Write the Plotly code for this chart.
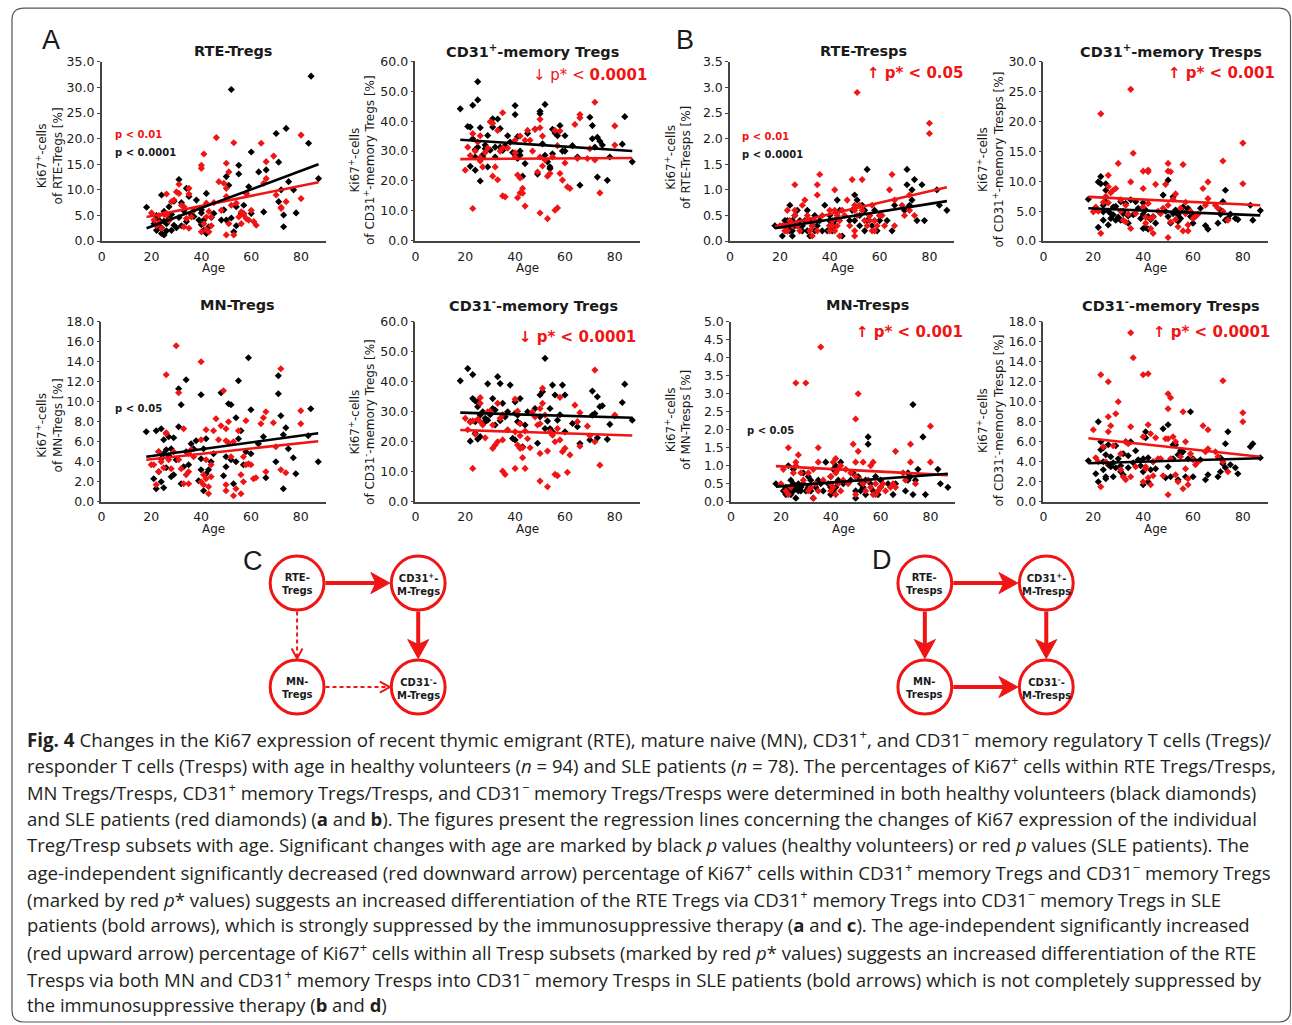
import plotly.graph_objects as go

W, H = 1292, 1032
# the page is photographed from a slightly taller view: figure starts 8 px down and is
# scaled by about 0.9856 vertically, so page pixels are mapped back through these two
TOP = 8
VIEW = 0.9856
RED = "#f01414"
INK = "#1a1a1a"

# ages of the two cohorts (same subjects in every panel)
healthy_age = [18, 21, 22, 22, 23, 23, 24, 24, 24, 25,
               25, 25, 26, 26, 27, 27, 28, 28, 29, 29,
               30, 31, 31, 32, 32, 33, 34, 34, 35, 36,
               37, 38, 39, 40, 40, 40, 41, 41, 42, 42,
               43, 44, 45, 48, 49, 50, 50, 51, 52, 52,
               53, 54, 54, 55, 55, 56, 57, 58, 59, 60,
               60, 63, 65, 66, 70, 71, 71, 72, 73, 73,
               74, 75, 77, 78, 83, 84, 87]
sle_age = [20, 21, 22, 23, 23, 24, 25, 26, 26, 26,
           27, 28, 29, 30, 31, 31, 32, 33, 33, 34,
           35, 35, 35, 36, 37, 40, 40, 40, 41, 41,
           42, 42, 42, 43, 43, 44, 44, 45, 46, 47,
           48, 49, 50, 50, 50, 50, 51, 51, 52, 53,
           53, 54, 55, 56, 56, 57, 57, 58, 58, 59,
           60, 61, 62, 64, 65, 66, 66, 69, 70, 72,
           72, 74, 80, 80]

# Ki67+ cells [%] per subset
rte_tregs_healthy = [6.6, 3.4, 2.1, 5.0, 4.1, 3.0, 1.5, 9.0, 2.6, 1.2,
                     5.8, 3.9, 3.4, 2.0, 6.7, 4.4, 2.1, 5.2, 3.1, 7.8,
                     2.6, 12.0, 4.6, 7.5, 3.0, 5.9, 10.3, 3.8, 8.7, 5.1,
                     4.8, 8.0, 4.1, 6.1, 3.2, 5.5, 2.1, 4.1, 1.5, 9.3,
                     2.8, 4.6, 5.4, 4.1, 6.1, 12.6, 4.1, 10.9, 29.6, 4.5,
                     1.8, 6.7, 3.0, 14.8, 13.1, 5.4, 7.0, 9.3, 10.6, 17.4,
                     5.4, 13.5, 5.7, 13.9, 21.0, 15.4, 7.7, 10.0, 5.1, 2.8,
                     22.0, 11.6, 10.0, 5.5, 19.1, 32.2, 12.2]
rte_tregs_sle = [5.5, 4.1, 3.0, 3.6, 5.0, 2.5, 5.2, 9.2, 5.4, 5.1,
                 4.0, 7.7, 8.0, 9.6, 11.1, 9.3, 7.0, 2.8, 6.7, 4.4,
                 10.3, 9.2, 2.5, 4.7, 6.0, 14.8, 1.8, 14.2, 3.4, 17.0,
                 7.4, 4.7, 2.2, 1.8, 5.8, 4.7, 3.0, 7.5, 20.2, 11.6,
                 6.0, 11.3, 10.3, 15.2, 8.7, 1.2, 3.4, 13.5, 7.0, 19.2,
                 1.2, 7.4, 4.7, 3.4, 5.7, 5.4, 5.1, 9.3, 4.4, 4.1,
                 6.0, 3.8, 3.1, 19.1, 11.3, 15.5, 12.2, 16.6, 9.0, 6.4,
                 6.6, 7.7, 20.7, 8.3]

cd31p_tregs_healthy = [44.1, 38.2, 24.9, 38.0, 45.3, 34.1, 23.6, 28.0, 30.5, 53.2,
                       47.1, 31.3, 37.8, 20.0, 28.0, 28.7, 30.8, 32.0, 24.7, 35.2,
                       30.3, 38.0, 40.8, 31.3, 28.0, 40.7, 31.3, 37.5, 30.2, 31.8,
                       35.1, 33.0, 29.5, 45.2, 42.2, 29.1, 27.5, 34.8, 28.6, 30.0,
                       21.6, 25.8, 35.9, 37.3, 22.3, 43.3, 42.5, 32.4, 45.6, 28.6,
                       26.4, 24.7, 24.1, 29.1, 37.3, 36.0, 35.1, 38.5, 30.0, 35.1,
                       30.0, 31.8, 28.0, 18.6, 41.3, 34.1, 38.5, 31.3, 34.6, 21.3,
                       33.3, 32.0, 20.2, 28.0, 32.3, 41.5, 26.4]
cd31p_tregs_sle = [23.6, 31.3, 28.5, 10.8, 35.8, 30.0, 33.0, 35.1, 26.7, 27.8,
                   24.7, 29.5, 31.0, 39.8, 39.3, 21.6, 24.7, 36.9, 20.4, 30.0,
                   42.8, 31.1, 15.0, 14.7, 31.0, 28.0, 29.4, 33.6, 14.4, 22.0,
                   35.0, 16.0, 21.0, 15.9, 17.5, 11.6, 33.6, 36.9, 33.6, 30.0,
                   37.3, 23.0, 9.3, 40.6, 37.8, 28.0, 35.0, 25.0, 27.0, 7.4,
                   21.6, 22.5, 28.0, 36.9, 10.2, 11.0, 31.8, 36.7, 22.5, 20.3,
                   26.0, 18.0, 17.5, 38.9, 27.5, 42.2, 41.1, 27.5, 30.8, 46.3,
                   27.0, 16.0, 38.4, 32.0]

rte_tresps_healthy = [0.3, 0.1, 0.4, 0.3, 0.4, 0.2, 0.7, 0.2, 0.3, 0.1,
                      0.4, 0.2, 0.3, 0.5, 0.6, 0.3, 0.3, 0.4, 0.2, 0.3,
                      0.4, 0.6, 0.2, 0.4, 0.1, 0.3, 0.2, 0.5, 0.3, 0.4,
                      0.2, 0.7, 0.2, 0.5, 0.3, 0.4, 0.3, 0.2, 0.4, 0.3,
                      0.8, 0.6, 0.1, 0.4, 0.6, 0.9, 0.4, 0.8, 0.3, 0.5,
                      0.7, 0.2, 0.6, 1.4, 0.4, 0.5, 0.3, 0.6, 0.2, 0.5,
                      0.4, 0.4, 0.2, 0.7, 0.6, 1.4, 1.1, 0.7, 1.0, 0.8,
                      1.2, 0.4, 1.1, 0.4, 1.0, 0.7, 0.6]
rte_tresps_sle = [0.3, 0.3, 0.2, 0.6, 0.2, 0.4, 0.3, 1.1, 0.6, 0.5,
                  0.3, 0.2, 0.7, 0.8, 0.5, 0.4, 0.2, 0.1, 0.3, 0.4,
                  1.1, 0.9, 0.2, 1.3, 0.5, 0.6, 0.3, 0.2, 0.4, 0.3,
                  1.0, 0.6, 0.2, 0.5, 0.3, 0.1, 0.4, 0.6, 0.5, 0.8,
                  0.3, 1.2, 0.7, 0.1, 0.2, 0.6, 2.9, 0.5, 0.7, 1.2,
                  0.6, 0.4, 0.3, 0.5, 0.4, 0.2, 0.7, 0.4, 0.2, 0.3,
                  0.5, 0.5, 0.3, 1.0, 1.3, 0.8, 0.3, 0.7, 0.5, 0.9,
                  0.6, 0.5, 2.3, 2.1]

cd31p_tresps_healthy = [7.0, 5.3, 2.3, 9.9, 10.8, 9.6, 6.0, 4.9, 3.5, 8.5,
                        6.6, 9.6, 2.7, 5.0, 4.6, 3.8, 5.7, 4.4, 3.5, 5.8,
                        4.0, 6.6, 3.5, 4.6, 5.0, 6.3, 4.2, 3.0, 6.9, 4.4,
                        6.6, 5.5, 3.8, 2.1, 6.4, 4.5, 5.2, 2.3, 4.1, 2.0,
                        3.6, 4.1, 3.0, 7.7, 5.0, 10.2, 4.1, 3.0, 7.4, 4.6,
                        5.2, 3.3, 4.4, 5.0, 3.8, 5.7, 4.8, 5.5, 4.1, 4.1,
                        3.0, 5.5, 2.6, 2.0, 3.0, 5.2, 4.5, 6.6, 3.5, 8.5,
                        3.8, 4.5, 3.8, 3.6, 6.0, 3.5, 5.1]
cd31p_tresps_sle = [4.9, 5.7, 5.0, 21.3, 1.3, 6.5, 7.5, 11.0, 9.1, 6.4,
                    8.1, 8.5, 8.8, 13.0, 6.9, 5.0, 3.5, 3.2, 6.0, 4.5,
                    25.4, 9.9, 2.1, 14.7, 4.6, 8.8, 11.7, 5.7, 3.0, 4.0,
                    11.9, 11.6, 6.3, 3.8, 2.1, 1.3, 4.0, 9.5, 5.0, 4.6,
                    5.5, 9.5, 13.0, 11.7, 0.6, 6.0, 11.6, 3.2, 7.0, 7.9,
                    3.6, 2.4, 5.5, 12.8, 1.7, 4.6, 6.5, 1.7, 2.7, 5.0,
                    3.8, 4.1, 4.5, 8.8, 6.0, 9.9, 7.1, 6.0, 5.5, 13.4,
                    5.0, 3.5, 16.4, 9.6]

mn_tregs_healthy = [7.0, 2.3, 1.3, 7.1, 5.0, 3.0, 4.3, 2.0, 7.3, 6.2,
                    1.4, 4.8, 3.4, 5.2, 6.5, 4.6, 5.3, 2.5, 6.4, 2.7,
                    4.2, 11.3, 7.5, 9.7, 1.8, 3.5, 12.2, 5.0, 3.7, 5.8,
                    5.3, 6.1, 2.1, 10.7, 3.2, 4.3, 5.3, 1.1, 6.3, 2.8,
                    3.2, 4.0, 4.8, 10.9, 2.6, 3.5, 4.5, 9.8, 9.7, 4.2,
                    1.8, 8.4, 4.0, 12.1, 6.3, 7.1, 3.7, 5.0, 14.4, 9.2,
                    4.8, 5.8, 6.5, 2.4, 4.0, 12.6, 10.8, 8.6, 6.7, 1.3,
                    7.4, 5.3, 4.4, 2.8, 6.6, 9.3, 4.0]
mn_tregs_sle = [3.7, 3.7, 1.7, 3.0, 5.0, 4.0, 3.4, 12.7, 6.9, 6.8,
                4.2, 3.3, 5.0, 15.6, 10.9, 4.2, 3.3, 7.3, 1.8, 2.7,
                3.0, 1.8, 4.8, 5.2, 4.5, 14.0, 6.2, 2.0, 1.7, 2.7,
                7.2, 4.2, 2.3, 1.5, 0.8, 3.7, 2.5, 7.1, 8.3, 6.2,
                7.6, 11.1, 1.7, 1.1, 6.1, 7.3, 8.0, 5.9, 4.5, 0.6,
                6.0, 1.3, 7.1, 2.7, 0.8, 2.0, 4.5, 8.1, 3.7, 3.8,
                3.7, 2.3, 2.4, 7.8, 8.4, 9.0, 3.0, 7.9, 5.5, 13.3,
                3.2, 2.9, 9.1, 7.8]

cd31n_tregs_healthy = [40.3, 44.4, 26.7, 20.2, 42.4, 34.4, 33.6, 26.7, 22.8, 20.9,
                       33.3, 31.7, 28.9, 21.7, 30.0, 26.0, 27.8, 26.7, 39.3, 27.2,
                       29.0, 31.1, 34.4, 30.6, 25.6, 41.7, 39.4, 27.0, 32.8, 28.3,
                       30.0, 38.9, 21.1, 33.3, 20.6, 29.5, 26.7, 28.9, 26.1, 34.4,
                       18.3, 25.6, 30.0, 31.1, 19.5, 35.6, 28.3, 36.7, 47.8, 24.4,
                       26.9, 24.4, 31.1, 23.3, 38.9, 35.6, 27.2, 29.0, 38.9, 35.6,
                       23.3, 26.1, 25.0, 19.4, 20.6, 36.9, 28.9, 29.4, 35.0, 21.3,
                       31.7, 32.0, 20.8, 25.8, 33.1, 39.2, 27.2]
cd31n_tregs_sle = [27.8, 24.0, 26.5, 11.1, 27.0, 22.5, 27.5, 34.7, 32.8, 26.7,
                   25.6, 21.3, 30.0, 30.2, 17.8, 25.6, 18.9, 32.8, 20.0, 27.8,
                   20.6, 10.2, 29.0, 9.1, 24.0, 34.2, 11.1, 23.3, 30.2, 18.9,
                   26.1, 17.8, 22.0, 14.7, 18.0, 11.1, 23.6, 21.0, 18.0, 30.0,
                   28.3, 25.6, 31.1, 16.1, 6.9, 26.0, 37.8, 32.8, 28.9, 5.0,
                   16.9, 23.3, 22.2, 20.0, 9.1, 8.7, 24.4, 34.8, 20.6, 16.7,
                   17.8, 9.8, 15.6, 32.2, 26.7, 29.7, 18.5, 25.2, 22.0, 43.9,
                   20.0, 12.2, 28.6, 28.9]

mn_tresps_healthy = [0.5, 0.3, 0.2, 0.4, 1.0, 0.3, 0.6, 0.2, 0.4, 0.5,
                     0.9, 0.3, 0.1, 0.4, 0.3, 0.5, 0.4, 0.3, 0.8, 0.5,
                     0.3, 0.7, 0.4, 0.3, 0.6, 0.1, 0.4, 0.5, 0.6, 0.5,
                     0.3, 1.1, 0.5, 0.4, 0.7, 0.2, 0.9, 0.3, 1.0, 0.4,
                     0.6, 1.1, 0.5, 0.6, 0.8, 0.3, 0.1, 0.7, 0.5, 0.3,
                     0.4, 0.2, 0.6, 1.8, 1.6, 0.5, 0.3, 0.7, 0.2, 0.4,
                     0.6, 0.5, 0.2, 0.5, 0.3, 0.8, 0.6, 0.7, 2.7, 0.2,
                     0.6, 0.9, 1.8, 0.2, 0.9, 0.5, 0.4]
mn_tresps_sle = [0.5, 0.9, 0.3, 1.5, 0.2, 0.4, 0.8, 3.3, 1.1, 1.0,
                 1.3, 0.8, 0.6, 3.3, 0.8, 0.3, 0.4, 0.1, 0.9, 0.5,
                 1.5, 1.1, 0.3, 4.3, 0.6, 0.5, 0.7, 0.3, 1.1, 0.4,
                 1.2, 0.8, 0.2, 0.5, 0.9, 1.0, 0.3, 0.6, 0.9, 0.5,
                 0.8, 1.6, 2.3, 0.7, 1.1, 0.2, 3.0, 1.4, 0.6, 1.1,
                 0.5, 0.3, 0.6, 1.0, 0.4, 1.1, 0.2, 0.5, 0.2, 0.3,
                 0.4, 0.5, 0.3, 0.4, 0.5, 1.4, 0.4, 0.8, 0.6, 1.6,
                 1.1, 0.5, 2.1, 1.1]

cd31n_tresps_healthy = [4.1, 2.8, 8.0, 2.0, 6.0, 5.2, 4.0, 3.2, 5.4, 4.7,
                        2.3, 2.5, 5.7, 3.7, 3.5, 4.5, 2.5, 3.9, 5.6, 3.4,
                        4.3, 3.0, 3.6, 2.7, 4.8, 6.0, 3.4, 4.6, 6.0, 3.9,
                        5.1, 4.2, 3.6, 1.7, 3.0, 4.3, 7.0, 6.4, 2.0, 4.4,
                        3.2, 4.0, 3.3, 7.3, 2.4, 7.7, 3.5, 2.5, 4.3, 5.7,
                        5.7, 2.2, 4.7, 4.8, 5.1, 5.0, 2.5, 4.3, 9.0, 2.5,
                        4.3, 4.2, 2.2, 2.7, 2.5, 4.4, 3.0, 3.8, 5.8, 3.4,
                        7.0, 3.7, 3.4, 2.8, 5.5, 5.8, 4.4]
cd31n_tresps_sle = [7.2, 4.4, 4.0, 12.7, 1.5, 5.5, 4.0, 12.0, 8.5, 7.0,
                    7.6, 5.6, 8.8, 10.0, 4.8, 3.2, 2.5, 2.2, 6.0, 5.8,
                    16.9, 7.5, 2.5, 14.4, 3.5, 12.7, 6.5, 2.0, 3.3, 3.5,
                    12.8, 7.7, 2.4, 6.8, 1.7, 2.6, 4.0, 6.4, 4.3, 4.3,
                    2.6, 6.3, 10.8, 9.3, 0.7, 6.3, 10.4, 4.3, 6.5, 2.7,
                    6.0, 2.0, 4.5, 9.0, 1.3, 6.0, 3.3, 1.7, 2.3, 4.8,
                    4.2, 3.7, 4.0, 7.6, 5.0, 7.2, 5.3, 5.0, 4.5, 12.1,
                    4.0, 3.0, 8.9, 8.0]

# regression lines, values at the first and last age
fit_age = [18, 87]
rte_tregs_fit = ([2.5, 15.0], [4.7, 11.5])
cd31p_tregs_fit = ([33.8, 30.0], [27.3, 27.7])
rte_tresps_fit = ([0.25, 0.78], [0.28, 1.05])
cd31p_tresps_fit = ([5.5, 4.3], [7.4, 6.0])
mn_tregs_fit = ([4.5, 6.85], [4.2, 6.05])
cd31n_tregs_fit = ([29.7, 28.0], [23.9, 22.1])
mn_tresps_fit = ([0.42, 0.78], [0.99, 0.74])
cd31n_tresps_fit = ([3.85, 4.35], [6.35, 4.5])

x_ticks = [0, 20, 40, 60, 80]


def fx(x):
    return x / W


def fy(y):
    return 1 - (y / VIEW - TOP) / H


def pt(x, y):
    return f"{fx(x):.5f},{fy(y):.5f}"


def note(x, y, text, xanchor="center", yanchor="middle", **kw):
    # annotation placed in page pixels
    return dict(x=fx(x), y=fy(y), xref="paper", yref="paper", text=text, showarrow=False,
                xanchor=xanchor, yanchor=yanchor, **kw)


panels = [
    dict(title="RTE-Tregs", ylab="of RTE-Tregs [%]", ymax=35, dtick=5,
         h=rte_tregs_healthy, s=rte_tregs_sle, fit=rte_tregs_fit,
         box=(98, 323, 61.7, 241), tx=230, ty=51, lx=45.5, ly=156),
    dict(title="CD31<sup>+</sup>-memory Tregs", ylab="of CD31<sup>+</sup>-memory Tregs [%]",
         ymax=60, dtick=10, h=cd31p_tregs_healthy, s=cd31p_tregs_sle, fit=cd31p_tregs_fit,
         box=(412.7, 637.7, 61.2, 240.7), tx=530, ty=51, lx=359, ly=160),
    dict(title="RTE-Tresps", ylab="of RTE-Tresps [%]", ymax=3.5, dtick=0.5,
         h=rte_tresps_healthy, s=rte_tresps_sle, fit=rte_tresps_fit,
         box=(728.3, 953.3, 61.7, 241), tx=862, ty=51, lx=676, ly=157),
    dict(title="CD31<sup>+</sup>-memory Tresps", ylab="of CD31<sup>+</sup>-memory Tresps [%]",
         ymax=30, dtick=5, h=cd31p_tresps_healthy, s=cd31p_tresps_sle, fit=cd31p_tresps_fit,
         box=(1042.7, 1267.7, 61.7, 241), tx=1171, ty=51, lx=989.5, ly=159),
    dict(title="MN-Tregs", ylab="of MN-Tregs [%]", ymax=18, dtick=2,
         h=mn_tregs_healthy, s=mn_tregs_sle, fit=mn_tregs_fit,
         box=(97.7, 322.7, 321.7, 501.7), tx=234.5, ty=305, lx=45.5, ly=425),
    dict(title="CD31<sup>-</sup>-memory Tregs", ylab="of CD31<sup>-</sup>-memory Tregs [%]",
         ymax=60, dtick=10, h=cd31n_tregs_healthy, s=cd31n_tregs_sle, fit=cd31n_tregs_fit,
         box=(412.7, 637.7, 321.7, 501.7), tx=531, ty=305, lx=359, ly=422),
    dict(title="MN-Tresps", ylab="of MN-Tresps [%]", ymax=5, dtick=0.5,
         h=mn_tresps_healthy, s=mn_tresps_sle, fit=mn_tresps_fit,
         box=(729.3, 954.3, 321.7, 501.7), tx=866, ty=305, lx=676, ly=420),
    dict(title="CD31<sup>-</sup>-memory Tresps", ylab="of CD31<sup>-</sup>-memory Tresps [%]",
         ymax=18, dtick=2, h=cd31n_tresps_healthy, s=cd31n_tresps_sle, fit=cd31n_tresps_fit,
         box=(1042.7, 1267.7, 321.7, 501.7), tx=1171, ty=305, lx=989.5, ly=420),
]

# p values: (text, colour, left x, y)
small_p = [
    ("p < 0.01", RED, 109, 134), ("p < 0.0001", INK, 109, 152),
    ("p < 0.01", RED, 738, 136), ("p < 0.0001", INK, 738, 154),
    ("p < 0.05", INK, 109, 408), ("p < 0.05", INK, 743, 430),
]
# age independent p*: (text, right x, y)
star_p = [
    ("↓ p* < <b>0.0001</b>", 647, 75),
    ("<b>↑ p* < 0.05</b>", 964, 73),
    ("<b>↑ p* < 0.001</b>", 1277, 73),
    ("<b>↓ p* < 0.0001</b>", 636, 337),
    ("<b>↑ p* < 0.001</b>", 964, 332),
    ("<b>↑ p* < 0.0001</b>", 1272, 332),
]

caption = [
    "<b>Fig. 4</b> Changes in the Ki67 expression of recent thymic emigrant (RTE), mature naive (MN), CD31<sup>+</sup>, and CD31<sup>−</sup> memory regulatory T cells (Tregs)/",
    "responder T cells (Tresps) with age in healthy volunteers (<i>n</i> = 94) and SLE patients (<i>n</i> = 78). The percentages of Ki67<sup>+</sup> cells within RTE Tregs/Tresps,",
    "MN Tregs/Tresps, CD31<sup>+</sup> memory Tregs/Tresps, and CD31<sup>−</sup> memory Tregs/Tresps were determined in both healthy volunteers (black diamonds)",
    "and SLE patients (red diamonds) (<b>a</b> and <b>b</b>). The figures present the regression lines concerning the changes of Ki67 expression of the individual",
    "Treg/Tresp subsets with age. Significant changes with age are marked by black <i>p</i> values (healthy volunteers) or red <i>p</i> values (SLE patients). The",
    "age-independent significantly decreased (red downward arrow) percentage of Ki67<sup>+</sup> cells within CD31<sup>+</sup> memory Tregs and CD31<sup>−</sup> memory Tregs",
    "(marked by red <i>p</i>* values) suggests an increased differentiation of the RTE Tregs via CD31<sup>+</sup> memory Tregs into CD31<sup>−</sup> memory Tregs in SLE",
    "patients (bold arrows), which is strongly suppressed by the immunosuppressive therapy (<b>a</b> and <b>c</b>). The age-independent significantly increased",
    "(red upward arrow) percentage of Ki67<sup>+</sup> cells within all Tresp subsets (marked by red <i>p</i>* values) suggests an increased differentiation of the RTE",
    "Tresps via both MN and CD31<sup>+</sup> memory Tresps into CD31<sup>−</sup> memory Tresps in SLE patients (bold arrows) which is not completely suppressed by",
    "the immunosuppressive therapy (<b>b</b> and <b>d</b>)",
]
# the printed caption is justified, so each full line gets its own size
caption_size = [18.75, 18.55, 18.47, 18.57, 18.57, 18.71, 18.63, 18.49, 18.49, 18.65, 18.4]

fig = go.Figure()
annotations = []
shapes = []
CHART_FONT = "DejaVu Sans"

for i, p in enumerate(panels):
    n = i + 1
    xname = "x" if n == 1 else f"x{n}"
    yname = "y" if n == 1 else f"y{n}"
    x0, x1, yt, yb = p["box"]
    fig.add_trace(go.Scatter(x=healthy_age, y=p["h"], mode="markers", xaxis=xname, yaxis=yname,
                             marker=dict(symbol="diamond", size=5.5, color="black"), hoverinfo="skip"))
    fig.add_trace(go.Scatter(x=sle_age, y=p["s"], mode="markers", xaxis=xname, yaxis=yname,
                             marker=dict(symbol="diamond", size=5.5, color=RED), hoverinfo="skip"))
    fig.add_trace(go.Scatter(x=fit_age, y=p["fit"][1], mode="lines", xaxis=xname, yaxis=yname,
                             line=dict(color=RED, width=2.6), hoverinfo="skip"))
    fig.add_trace(go.Scatter(x=fit_age, y=p["fit"][0], mode="lines", xaxis=xname, yaxis=yname,
                             line=dict(color="black", width=2.6), hoverinfo="skip"))

    xkey = "xaxis" if n == 1 else f"xaxis{n}"
    ykey = "yaxis" if n == 1 else f"yaxis{n}"
    fig.layout[xkey] = dict(domain=[fx(x0), fx(x1)], range=[0, 90], anchor=yname,
                            tickvals=x_ticks, showline=True, linecolor="#444", linewidth=1.5,
                            showgrid=False, zeroline=False, ticks="", ticklabelstandoff=3,
                            tickfont=dict(family=CHART_FONT, size=12.5, color=INK))
    fig.layout[ykey] = dict(domain=[fy(yb), fy(yt)], range=[0, p["ymax"]], anchor=xname,
                            dtick=p["dtick"], tickformat=".1f", showline=True, linecolor="#444",
                            linewidth=1.5, showgrid=False, zeroline=False, ticks="outside",
                            ticklen=3, tickcolor="#444",
                            tickfont=dict(family=CHART_FONT, size=12.5, color=INK))

    annotations.append(note(p["tx"], p["ty"], f"<b>{p['title']}</b>",
                            font=dict(family=CHART_FONT, size=14.5, color=INK)))
    annotations.append(note(p["lx"], p["ly"], "Ki67<sup>+</sup>-cells<br>" + p["ylab"],
                            textangle=-90, font=dict(family=CHART_FONT, size=12, color=INK)))
    annotations.append(note((x0 + x1) / 2, yb + 27, "Age",
                            font=dict(family=CHART_FONT, size=12, color=INK)))

for text, col, x, y in small_p:
    annotations.append(note(x, y, f"<b>{text}</b>", xanchor="left",
                            font=dict(family=CHART_FONT, size=10, color=col)))

for text, x, y in star_p:
    annotations.append(note(x, y, text, xanchor="right",
                            font=dict(family=CHART_FONT, size=15, color=RED)))

for letter, x, y in [("A", 47, 40), ("B", 683, 40), ("C", 250, 561), ("D", 881, 560)]:
    annotations.append(note(x, y, letter, font=dict(family="Liberation Sans", size=27, color=INK)))

# flow diagrams C and D
R = 27
diagrams = [
    dict(cols=(294, 415.5), rows=(583, 687),
         labels=["RTE-<br>Tregs", "CD31<sup>+</sup>-<br>M-Tregs", "MN-<br>Tregs", "CD31<sup>-</sup>-<br>M-Tregs"],
         arrows=[(0, 1, "bold"), (1, 3, "bold"), (0, 2, "dash"), (2, 3, "dash")]),
    dict(cols=(923.7, 1045.5), rows=(583, 687),
         labels=["RTE-<br>Tresps", "CD31<sup>+</sup>-<br>M-Tresps", "MN-<br>Tresps", "CD31<sup>-</sup>-<br>M-Tresps"],
         arrows=[(0, 1, "bold"), (1, 3, "bold"), (0, 2, "bold"), (2, 3, "bold")]),
]

for d in diagrams:
    cx0, cx1 = d["cols"]
    ry0, ry1 = d["rows"]
    nodes = [(cx0, ry0), (cx1, ry0), (cx0, ry1), (cx1, ry1)]
    for a, b, style in d["arrows"]:
        (ax, ay), (bx, by) = nodes[a], nodes[b]
        dx, dy = (1, 0) if ay == by else (0, 1)
        nx, ny = -dy, dx
        sx, sy = ax + dx * (R + 1.5), ay + dy * (R + 1.5)
        tx, ty = bx - dx * (R + 1.5), by - dy * (R + 1.5)
        if style == "bold":
            L, hw, notch = 19, 10.5, 5
            bx_, by_ = tx - dx * L, ty - dy * L
            nx_, ny_ = bx_ + dx * notch, by_ + dy * notch
            shapes.append(dict(type="line", xref="paper", yref="paper",
                               x0=fx(sx), y0=fy(sy), x1=fx(nx_ + dx), y1=fy(ny_ + dy),
                               line=dict(color=RED, width=4)))
            path = (f"M{pt(tx, ty)} L{pt(bx_ + nx * hw, by_ + ny * hw)} L{pt(nx_, ny_)} "
                    f"L{pt(bx_ - nx * hw, by_ - ny * hw)} Z")
            shapes.append(dict(type="path", xref="paper", yref="paper", path=path,
                               fillcolor=RED, line=dict(color=RED, width=1)))
        else:
            L, hw = 10, 5.5
            shapes.append(dict(type="line", xref="paper", yref="paper",
                               x0=fx(sx), y0=fy(sy), x1=fx(tx - dx), y1=fy(ty - dy),
                               line=dict(color=RED, width=2, dash="4px,3px")))
            bx_, by_ = tx - dx * L, ty - dy * L
            path = (f"M{pt(bx_ + nx * hw, by_ + ny * hw)} L{pt(tx, ty)} "
                    f"L{pt(bx_ - nx * hw, by_ - ny * hw)}")
            shapes.append(dict(type="path", xref="paper", yref="paper", path=path,
                               line=dict(color=RED, width=2)))
    for (cx, cy), label in zip(nodes, d["labels"]):
        shapes.append(dict(type="circle", xref="paper", yref="paper",
                           x0=fx(cx - R), x1=fx(cx + R), y0=fy(cy + R), y1=fy(cy - R),
                           fillcolor="white", line=dict(color=RED, width=3)))
        annotations.append(note(cx, cy + 1, f"<b>{label}</b>",
                                font=dict(family=CHART_FONT, size=10, color=INK)))

for k, line in enumerate(caption):
    annotations.append(note(21, 738.3 + k * 26.67, line, xanchor="left",
                            font=dict(family="Open Sans", size=caption_size[k], color="#231f20")))

# rounded frame around the whole figure
l, t, r_, b, c = 8, 8, 1290.5, 1022, 12
frame = (f"M{pt(l + c, t)} L{pt(r_ - c, t)} Q{pt(r_, t)} {pt(r_, t + c)} L{pt(r_, b - c)} "
         f"Q{pt(r_, b)} {pt(r_ - c, b)} L{pt(l + c, b)} Q{pt(l, b)} {pt(l, b - c)} "
         f"L{pt(l, t + c)} Q{pt(l, t)} {pt(l + c, t)} Z")
shapes.append(dict(type="path", xref="paper", yref="paper", path=frame,
                   line=dict(color="#555", width=1.2)))

fig.update_layout(width=W, height=H, margin=dict(l=0, r=0, t=0, b=0),
                  paper_bgcolor="white", plot_bgcolor="white", showlegend=False,
                  annotations=annotations, shapes=shapes)

# the page keeps no body margin so the figure fills the window width exactly
fig.write_html("out.html", config={"displayModeBar": False},
               post_script="document.body.style.margin='0px';")
